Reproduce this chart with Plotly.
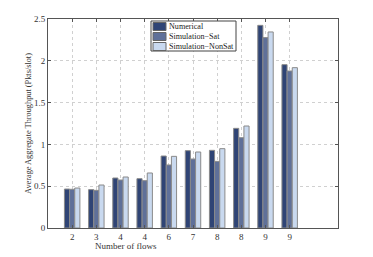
import plotly.graph_objects as go

positions = [1, 2, 3, 4, 5, 6, 7, 8, 9, 10]
tick_labels = ["2", "3", "4", "4", "6", "7", "8", "8", "9", "9"]
numerical = [0.466, 0.459, 0.598, 0.590, 0.861, 0.925, 0.929, 1.192, 2.424, 1.954]
sim_sat = [0.463, 0.450, 0.574, 0.566, 0.754, 0.825, 0.797, 1.080, 2.277, 1.878]
sim_nonsat = [0.478, 0.514, 0.610, 0.658, 0.857, 0.909, 0.949, 1.220, 2.345, 1.918]

series = [
    ("Numerical", numerical, "#2f4475"),
    ("Simulation\u2212Sat", sim_sat, "#5f7099"),
    ("Simulation\u2212NonSat", sim_nonsat, "#c9d9ef"),
]

W, H = 373, 257
ML, MR, MT, MB = 48, 35, 19, 29
PW, PH = W - ML - MR, H - MT - MB

def px_x(p):
    return (p - ML) / PW

def px_y(p):
    return 1 - (p - MT) / PH

fig = go.Figure()
for name, vals, col in series:
    fig.add_trace(go.Bar(
        x=positions, y=vals, name=name,
        marker=dict(color=col, line=dict(color="#8a8a8a", width=1)),
    ))

font_family = "Liberation Serif, Times New Roman, serif"

# custom compact legend (Matlab-like)
shapes = [dict(type="rect", xref="paper", yref="paper",
               x0=px_x(151), x1=px_x(236), y0=px_y(51), y1=px_y(21),
               line=dict(color="#444444", width=1), fillcolor="white", layer="above")]
annotations = []
for i, (name, vals, col) in enumerate(series):
    cy = 26.5 + 10 * i
    shapes.append(dict(type="rect", xref="paper", yref="paper",
                       x0=px_x(153), x1=px_x(166), y0=px_y(cy + 4), y1=px_y(cy - 4),
                       line=dict(color="#666666", width=1), fillcolor=col, layer="above"))
    annotations.append(dict(xref="paper", yref="paper", x=px_x(166.5), y=px_y(cy),
                            xanchor="left", yanchor="middle", showarrow=False,
                            text=name, font=dict(family=font_family, size=8.1, color="#222222")))

annotations.append(dict(xref="paper", yref="paper", x=px_x(126), y=px_y(246),
                        xanchor="center", yanchor="middle", showarrow=False,
                        text="Number of flows",
                        font=dict(family=font_family, size=9, color="#333333")))

annotations.append(dict(xref="paper", yref="paper", x=px_x(29), y=px_y(124),
                        xanchor="center", yanchor="middle", showarrow=False,
                        textangle=-90,
                        text="Average Aggregate Throughput (Pkts/slot)",
                        font=dict(family=font_family, size=8.3, color="#333333")))

fig.update_layout(
    width=W, height=H,
    margin=dict(l=ML, r=MR, t=MT, b=MB),
    barmode="group", bargap=0.36, bargroupgap=0,
    paper_bgcolor="white", plot_bgcolor="white",
    font=dict(family=font_family, size=10, color="#333333"),
    showlegend=False,
    shapes=shapes,
    annotations=annotations,
    xaxis=dict(
        range=[0, 12], automargin=False,
        tickmode="array", tickvals=positions, ticktext=tick_labels,
        showgrid=True, gridcolor="#d0d0d0", griddash="dot", gridwidth=1,
        showline=True, linecolor="#555555", linewidth=1, mirror="ticks",
        ticks="inside", ticklen=3, tickcolor="#555555",
        zeroline=False,
        tickfont=dict(family=font_family, size=9),
    ),
    yaxis=dict(
        range=[0, 2.5], automargin=False,
        tickmode="array", tickvals=[0, 0.5, 1, 1.5, 2, 2.5],
        ticktext=["0", "0.5", "1", "1.5", "2", "2.5"],
        showgrid=True, gridcolor="#d0d0d0", griddash="dot", gridwidth=1,
        showline=True, linecolor="#555555", linewidth=1, mirror="ticks",
        ticks="inside", ticklen=3, tickcolor="#555555",
        zeroline=False,
        tickfont=dict(family=font_family, size=9),
    ),
)

fig.write_html("out.html",
               config={"displayModeBar": False},
               post_script="document.body.style.margin='0';document.body.style.overflow='hidden';")
